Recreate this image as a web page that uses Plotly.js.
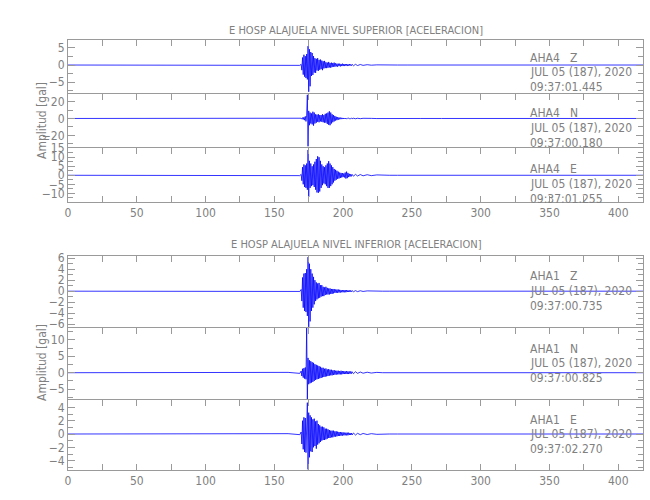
<!DOCTYPE html>
<html>
<head>
<meta charset="utf-8">
<script src="https://cdn.plot.ly/plotly-3.0.1.min.js"></script>
<style>html,body{margin:0;padding:0;background:#fff}#chart{width:650px;height:500px}</style>
</head>
<body>
<div id="chart"></div>
<script>
// Sample times (s)
const time = [
  0, 40, 80, 120, 150, 160, 168.5,
  169.5, 170, 170.5, 171, 171.5, 172, 172.5, 173, 173.5, 174,
  174.5, 175, 175.5, 176, 176.5, 177, 177.5, 178, 178.5, 179,
  179.5, 180, 180.5, 181, 181.5, 182, 182.5, 183, 183.5, 184,
  184.5, 185, 185.5, 186, 186.5, 187, 187.5, 188, 188.5, 189,
  189.5, 190, 190.5, 191, 191.5, 192, 192.5, 193, 193.5, 194,
  194.5, 195, 195.5, 196, 196.5, 197, 197.5, 198, 198.5, 199,
  199.5, 200, 200.5, 201, 201.5, 202, 202.5, 203, 203.5, 204,
  204.5, 205, 205.5, 206, 206.5,
  207.5, 209, 210.5, 212.5, 214.5, 217.5, 220.5, 224.5, 228.5, 233.5,
  239.5, 246.5, 256.5, 271.5, 291.5, 316.5, 346.5, 381.5, 418
];
// AHA4 (upper level) accelerations [gal]
const aha4Z = [
  0, 0, 0, 0, 0, 0.05, -0.1,
  0.2, -1.5, 2.2, -2.8, 3.0, -3.4, 2.6, -3.8, 3.2, -4.2,
  5.5, -7.8, 4.6, -6.2, 3.8, -3.2, 3.5, -2.9, 2.6, -2.2,
  2.0, -2.3, 1.8, -1.6, 2.0, -1.7, 1.5, -1.4, 1.6, -1.2,
  1.3, -1.5, 1.1, -1.0, 1.2, -0.9, 0.8, -0.9, 0.7, -0.8,
  0.9, -0.7, 0.6, -0.8, 0.7, -0.6, 0.6, -0.5, 0.7, -0.5,
  0.5, -0.4, 0.4, -0.5, 0.4, -0.3, 0.4, -0.4, 0.3, -0.3,
  0.4, -0.3, 0.3, -0.3, 0.3, -0.2, 0.3, -0.3, 0.2, -0.2,
  0.3, -0.2, 0.2, -0.2, 0.2,
  -0.2, 0.2, -0.15, 0.15, -0.1, 0.1, -0.05, 0.05, 0, 0,
  0, 0, 0, 0, 0, 0, 0, 0, 0
];
const aha4N = [
  0, 0, 0, 0, 0, 0.1, -0.2,
  0.3, -0.8, 1.0, -1.2, 1.5, -2.0, 2.5, -3.5, 4.0, 28,
  -33, 9, -8, 7, -6, 6, -7, 8, -8.5, 7,
  -6, 5, -5, 4.5, -4, 5, -4.5, 4, -3.5, 4,
  -4, 5, -4.5, 4, -5, 5.5, -5, 6, -6.5, 7,
  -7.5, 8.5, -8, 7, -6, 5, -4.5, 4, -3.5, 3,
  -2.5, 2, -2, 1.5, -1.5, 1.2, -1.0, 1.0, -0.8, 0.8,
  -0.7, 0.6, -0.6, 0.5, -0.5, 0.5, -0.4, 0.4, -0.4, 0.4,
  -0.3, 0.3, -0.3, 0.3, -0.3,
  0.3, -0.3, 0.25, -0.25, 0.2, -0.2, 0.1, -0.1, 0, 0,
  0, 0, 0, 0, 0, 0, 0, 0, 0
];
const aha4E = [
  0, 0, 0, 0, 0, 0.1, -0.2,
  0.5, -3, 4.5, -5, 6, -6.5, 5.5, -7, 6.5, -8,
  14, -12, 8, -7, 6.5, -6, 5, -5.5, 6, -6.5,
  7.5, -8, 9, -9.5, 10.5, -9.7, 10, -9, 8, -7,
  6, -5.5, 5, -4.5, 4.5, -5, 5.5, -6, 6.5, -7,
  7.8, -7, 6.5, -6, 5.5, -5, 4.5, -4, 3.5, -3,
  3, -2.5, 2.5, -2, 2, -1.8, 1.5, -1.5, 1.3, -1.2,
  1.2, -1.0, 1.0, -1.2, 1.5, -1.8, 2.0, -1.6, 1.3, -1.0,
  0.8, -0.7, 0.6, -0.6, 0.5,
  -0.5, 0.5, -0.4, 0.4, -0.3, 0.3, -0.2, 0.2, 0, 0,
  0, 0, 0, 0, 0, 0, 0, 0, 0
];
// AHA1 (lower level) accelerations [gal]
const aha1Z = [
  0, 0, 0, 0, 0, 0.05, -0.05,
  0.3, -1.8, 2.5, -3, 3.2, -3.6, 3.3, -3.8, 4, -4.5,
  6.2, -6.5, 5, -5.5, 4, -3.6, 3.2, -3, 2.6, -2.4,
  2, -1.8, 1.6, -1.5, 1.4, -1.3, 1.5, -1.2, 1.1, -1.0,
  1.1, -0.9, 0.8, -0.9, 0.7, -0.7, 0.8, -0.6, 0.6, -0.6,
  0.5, -0.6, 0.5, -0.5, 0.4, -0.5, 0.4, -0.4, 0.4, -0.3,
  0.3, -0.3, 0.3, -0.3, 0.3, -0.25, 0.25, -0.25, 0.2, -0.2,
  0.2, -0.2, 0.2, -0.2, 0.2, -0.2, 0.2, -0.15, 0.15, -0.15,
  0.15, -0.15, 0.15, -0.1, 0.1,
  -0.1, 0.1, -0.08, 0.08, -0.05, 0.05, 0, 0, 0, 0,
  0, 0, 0, 0, 0, 0, 0, 0, 0
];
const aha1N = [
  0, 0, 0, 0, 0, 0.1, -0.2,
  0.5, -1.0, 1.2, -1.5, 1.4, -1.8, 1.6, -2.0, 13.6, -8.5,
  4.5, -3.5, 3.8, -3.2, 3.5, -3.0, 3.2, -2.8, 3.0, -2.5,
  2.6, -2.2, 2.4, -2.0, 2.2, -1.9, 2.0, -1.7, 1.8, -1.6,
  1.5, -1.4, 1.5, -1.3, 1.2, -1.2, 1.3, -1.1, 1.0, -1.0,
  1.1, -0.9, 0.9, -0.8, 0.9, -0.8, 0.7, -0.7, 0.8, -0.6,
  0.6, -0.6, 0.6, -0.5, 0.6, -0.5, 0.5, -0.5, 0.6, -0.5,
  0.5, -0.4, 0.5, -0.4, 0.4, -0.4, 0.5, -0.4, 0.4, -0.4,
  0.4, -0.3, 0.4, -0.3, 0.3,
  -0.3, 0.3, -0.2, 0.2, -0.15, 0.15, -0.1, 0.1, 0, 0,
  0, 0, 0, 0, 0, 0, 0, 0, 0
];
const aha1E = [
  0, 0, 0, 0, 0, 0.05, -0.1,
  0.3, -1.5, 2.0, -2.3, 2.5, -2.7, 2.4, -2.8, 2.6, 4.7,
  -5.3, 3.2, -3.5, 2.8, -2.6, 2.5, -2.7, 2.2, -2.0, 2.3,
  -1.8, 1.9, -2.2, 2.0, -1.6, 1.5, -1.4, 1.3, -1.2, 1.1,
  -1.0, 1.1, -0.9, 1.0, -0.9, 0.8, -0.8, 0.8, -0.7, 0.7,
  -0.6, 0.6, -0.6, 0.5, -0.5, 0.5, -0.5, 0.5, -0.4, 0.4,
  -0.4, 0.4, -0.35, 0.35, -0.3, 0.3, -0.3, 0.3, -0.25, 0.25,
  -0.25, 0.25, -0.2, 0.2, -0.2, 0.2, -0.2, 0.2, -0.2, 0.2,
  -0.15, 0.15, -0.15, 0.15, -0.15,
  0.15, -0.15, 0.1, -0.1, 0.08, -0.08, 0.05, -0.05, 0, 0,
  0, 0, 0, 0, 0, 0, 0, 0, 0
];

const titles = ['E HOSP ALAJUELA NIVEL SUPERIOR [ACELERACION]', 'E HOSP ALAJUELA NIVEL INFERIOR [ACELERACION]'];
const stations = ['AHA4   Z', 'AHA4   N', 'AHA4   E', 'AHA1   Z', 'AHA1   N', 'AHA1   E'];
const dateLabel = 'JUL 05 (187), 2020';
const startTimes = ['09:37:01.445', '09:37:00.180', '09:37:01.255', '09:37:00.735', '09:37:00.825', '09:37:02.270'];
const yTitle = 'Amplitud [gal]';

const series = [aha4Z, aha4N, aha4E, aha1Z, aha1N, aha1E];

// layout geometry (pixels)
const W = 650, H = 500;
const X0 = 68, X1 = 643;
const panels = [[40, 94], [94, 148], [148, 202], [256, 328], [328, 400], [400, 470]];
const yRanges = [[-8.45, 7.3], [-35, 29], [-14.8, 15.1], [-6.7, 6.4], [-8.3, 13.6], [-5.4, 5.1]];
const yDticks = [5, 20, 5, 2, 5, 2];
const yMinor = [2.5, 10, 2.5, 1, 2.5, 1];

const FONT = 'Liberation Sans Narrow, DejaVu Sans Condensed, Arial Narrow, sans-serif';
const GRAY = '#808080';
const LINE = '#9a9a9a';

const data = series.map((s, i) => ({
  x: time, y: s, type: 'scatter', mode: 'lines',
  xaxis: 'x' + (i ? i + 1 : ''), yaxis: 'y' + (i ? i + 1 : ''),
  line: {color: '#0000ff', width: 0.8}, hoverinfo: 'skip'
}));

const layout = {
  width: W, height: H,
  margin: {l: 0, r: 0, t: 0, b: 0},
  paper_bgcolor: '#fff', plot_bgcolor: '#fff',
  showlegend: false,
  font: {family: FONT, size: 12, color: GRAY},
  annotations: []
};

panels.forEach((p, i) => {
  const k = i ? i + 1 : '';
  const isBottom = (i === 2 || i === 5);
  layout['xaxis' + k] = {
    domain: [X0 / W, X1 / W], range: [0, 418], anchor: 'y' + k,
    side: isBottom ? 'bottom' : 'top',
    showline: true, linecolor: LINE, linewidth: 1, mirror: isBottom ? 'ticks' : false,
    ticks: 'inside', ticklen: 6, tickcolor: LINE, tickwidth: 1,
    tickmode: 'linear', tick0: 0, dtick: 50,
    minor: {ticks: 'inside', dtick: 25, ticklen: 6, tickcolor: LINE, showgrid: false},
    showticklabels: isBottom, showgrid: false, zeroline: false,
    tickfont: {family: FONT, size: 12, color: GRAY}, fixedrange: true
  };
  layout['yaxis' + k] = {
    domain: [1 - p[1] / H, 1 - p[0] / H], range: yRanges[i], anchor: 'x' + k,
    showline: true, linecolor: LINE, linewidth: 1, mirror: 'ticks',
    ticks: 'inside', ticklen: 7, tickcolor: LINE, tickwidth: 1,
    tickmode: 'linear', tick0: 0, dtick: yDticks[i],
    minor: {ticks: 'inside', dtick: yMinor[i], ticklen: 5, tickcolor: LINE, showgrid: false},
    showgrid: false, zeroline: false,
    tickfont: {family: FONT, size: 12, color: GRAY}, fixedrange: true
  };
  const yc = [[58, 72, 87], [113, 128, 143], [169, 184, 199], [276, 291, 306], [349, 363, 378], [420, 434, 449]][i];
  [stations[i], dateLabel, startTimes[i]].forEach((t, j) => {
    layout.annotations.push({
      text: t, xref: 'paper', yref: 'paper', x: 528 / W, y: 1 - yc[j] / H,
      xanchor: 'left', yanchor: 'middle', showarrow: false,
      font: {family: FONT, size: 12, color: GRAY}
    });
  });
});

[[30, 121], [244, 363]].forEach((g, i) => {
  layout.annotations.push({
    text: titles[i], xref: 'paper', yref: 'paper', x: 356 / W, y: 1 - g[0] / H,
    xanchor: 'center', yanchor: 'middle', showarrow: false,
    font: {family: FONT, size: 11, color: GRAY}
  });
  layout.annotations.push({
    text: yTitle, xref: 'paper', yref: 'paper', x: 42 / W, y: 1 - g[1] / H,
    xanchor: 'center', yanchor: 'middle', showarrow: false, textangle: -90,
    font: {family: FONT, size: 12, color: GRAY}
  });
});

Plotly.newPlot('chart', data, layout, {displayModeBar: false, staticPlot: true});
</script>
</body>
</html>
